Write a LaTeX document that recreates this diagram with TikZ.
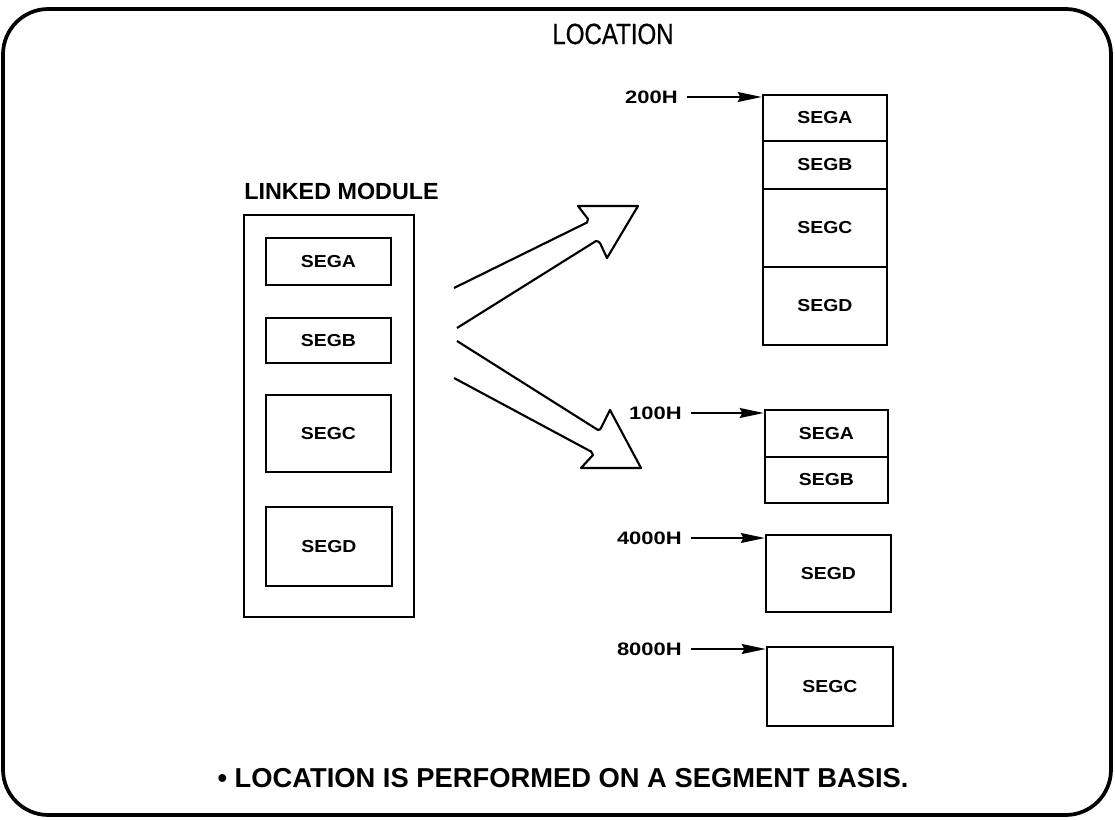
\documentclass[tikz,border=0pt]{standalone}
\usepackage{fontspec}
\setmainfont{Liberation Sans}
\newfontfamily\segfont[FakeStretch=1.12]{Liberation Sans}
\newfontfamily\addrfont[FakeStretch=1.22]{Liberation Sans}
\newfontfamily\titlefont[FakeStretch=0.82,FakeBold=0.6]{Liberation Sans}
\usetikzlibrary{fit,arrows.meta}
\begin{document}
\begin{tikzpicture}[x=0.75pt,y=-0.75pt,
  segtext/.style={inner sep=0pt, font=\segfont\fontsize{13}{13}\selectfont\bfseries},
  segbox/.style={draw, line width=1.9pt, inner sep=0pt, label={[segtext]center:#1}},
  memcell/.style={draw, line width=1.1pt, inner sep=0pt, label={[segtext]center:#1}},
  memframe/.style={draw, line width=2.0pt, inner sep=0pt},
  addr/.style={anchor=east, inner sep=0pt,
    font=\addrfont\fontsize{13.5}{13.5}\selectfont\bfseries},
  addrarrow/.style={line width=1.2pt, shorten <=7pt,
    -{Stealth[length=18pt,width=7.5pt,inset=2pt]}},
  blockarrow/.style={line width=1.6pt, line join=round}
]
\useasboundingbox (0,0) rectangle (1115,820);

% slide frame
\draw[line width=2.8pt, rounded corners=34pt] (3,9) rectangle (1111,815);

% headings
\node[font=\titlefont\fontsize{22}{22}\selectfont] (title) at (613,34) {LOCATION};
\node[anchor=west, inner sep=0pt, font=\fontsize{17.5}{17.5}\selectfont\bfseries]
  (lmlabel) at (244,191) {LINKED MODULE};

% linked module with its four segments
\node[fit={(244,215)(414,617)}, draw, line width=1.6pt, inner sep=0pt] (lm) {};
\node[segbox=SEGA, fit={(266,238)(391,285)}] (la) {};
\node[segbox=SEGB, fit={(266,318)(391,363)}] (lb) {};
\node[segbox=SEGC, fit={(266,395)(391,472)}] (lc) {};
\node[segbox=SEGD, fit={(266,507)(392,586)}] (ld) {};

% block arrows from the module to the located memory images
\draw[blockarrow] (454,288) -- (586,223) to[out=-60,in=-100,looseness=0.8] (588,219)
  -- (578,206) -- (638,206) -- (607,258) -- (600,243)
  to[out=160,in=40,looseness=0.8] (596,241) -- (457,328);
\draw[blockarrow] (457,341) -- (598,430) to[out=20,in=-60,looseness=0.8] (601,428)
  -- (610,410) -- (641,468) -- (581,468) -- (593,455)
  to[out=120,in=80,looseness=0.8] (590,451) -- (454,378);

% image located at 200H
\node[memcell=SEGA, fit={(763,95)(887,141)}]  (ma) {};
\node[memcell=SEGB, fit={(763,141)(887,189)}] (mb) {};
\node[memcell=SEGC, fit={(763,189)(887,267)}] (mc) {};
\node[memcell=SEGD, fit={(763,267)(887,345)}] (md) {};
\node[memframe, fit={(763,95)(887,345)}] (m200) {};
\node[addr] (a200) at (678,97) {200H};
\draw[addrarrow] (a200.east) -- (a200.east -| m200.west);

% image located at 100H
\node[memcell=SEGA, fit={(765,410)(888,457)}] (na) {};
\node[memcell=SEGB, fit={(765,457)(888,503)}] (nb) {};
\node[memframe, fit={(765,410)(888,503)}] (m100) {};
\node[addr] (a100) at (682,413) {100H};
\draw[addrarrow] (a100.east) -- (a100.east -| m100.west);

% image located at 4000H
\node[segbox=SEGD, fit={(766,535)(891,612)}] (m4000) {};
\node[addr] (a4000) at (682,538) {4000H};
\draw[addrarrow] (a4000.east) -- (a4000.east -| m4000.west);

% image located at 8000H
\node[segbox=SEGC, fit={(767,647)(893,726)}] (m8000) {};
\node[addr] (a8000) at (682,649) {8000H};
\draw[addrarrow] (a8000.east) -- (a8000.east -| m8000.west);

% footnote
\node[font=\fontsize{20.5}{20.5}\selectfont\bfseries] (note) at (563,778)
  {• LOCATION IS PERFORMED ON A SEGMENT BASIS.};
\end{tikzpicture}
\end{document}
